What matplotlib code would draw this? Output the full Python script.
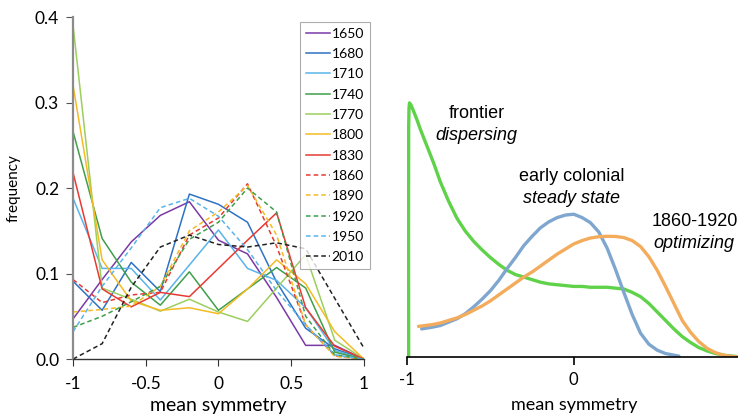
import numpy as np
import matplotlib
matplotlib.use("Agg")
import matplotlib.pyplot as plt

plt.rcParams['font.family'] = ['Lato', 'DejaVu Sans']

# left panel: frequency of mean symmetry per decade
sym_bins = [-1, -0.8, -0.6, -0.4, -0.2, 0, 0.2, 0.4, 0.6, 0.8, 1]
years = ['1650', '1680', '1710', '1740', '1770', '1800', '1830',
         '1860', '1890', '1920', '1950', '2010']
freq_1650 = [0.047, 0.093, 0.137, 0.168, 0.184, 0.139, 0.123, 0.072, 0.016, 0.016, 0.0]
freq_1680 = [0.091, 0.057, 0.113, 0.079, 0.193, 0.181, 0.160, 0.090, 0.036, 0.012, 0.0]
freq_1710 = [0.188, 0.106, 0.106, 0.069, 0.110, 0.151, 0.106, 0.092, 0.060, 0.010, 0.0]
freq_1740 = [0.266, 0.141, 0.090, 0.063, 0.102, 0.057, 0.082, 0.107, 0.083, 0.008, 0.0]
freq_1770 = [0.390, 0.083, 0.070, 0.056, 0.070, 0.055, 0.044, 0.083, 0.122, 0.022, 0.0]
freq_1800 = [0.320, 0.116, 0.068, 0.057, 0.060, 0.053, 0.082, 0.116, 0.088, 0.032, 0.0]
freq_1830 = [0.218, 0.082, 0.061, 0.078, 0.073, 0.106, 0.139, 0.171, 0.060, 0.015, 0.0]
freq_1860 = [0.093, 0.066, 0.075, 0.078, 0.145, 0.165, 0.205, 0.132, 0.040, 0.004, 0.0]
freq_1890 = [0.055, 0.058, 0.062, 0.085, 0.150, 0.172, 0.203, 0.145, 0.040, 0.003, 0.0]
freq_1920 = [0.037, 0.050, 0.067, 0.085, 0.140, 0.160, 0.200, 0.172, 0.050, 0.005, 0.0]
freq_1950 = [0.032, 0.085, 0.130, 0.177, 0.188, 0.167, 0.128, 0.080, 0.040, 0.005, 0.0]
freq_2010 = [0.0, 0.018, 0.084, 0.131, 0.145, 0.134, 0.131, 0.136, 0.129, 0.071, 0.013]

# right panel: schematic distributions
front_x = [-0.990, -0.991, -0.990, -0.988, -0.985, -0.975, -0.96, -0.94, -0.92, -0.90,
           -0.87, -0.84, -0.80, -0.75, -0.70, -0.65, -0.60, -0.55, -0.50, -0.45,
           -0.40, -0.35, -0.30, -0.25, -0.20, -0.15, -0.10, -0.05, 0.0, 0.05,
           0.10, 0.15, 0.20, 0.25, 0.30, 0.35, 0.40, 0.45, 0.50, 0.55,
           0.60, 0.65, 0.70, 0.75, 0.80, 0.85, 0.90, 0.95, 1.0]
front_y = [0.0, 0.15, 0.27, 0.293, 0.299, 0.296, 0.289, 0.279, 0.268, 0.258,
           0.243, 0.228, 0.206, 0.183, 0.163, 0.148, 0.136, 0.126, 0.117, 0.109,
           0.102, 0.097, 0.094, 0.091, 0.088, 0.086, 0.085, 0.084, 0.083, 0.083,
           0.082, 0.082, 0.082, 0.081, 0.080, 0.076, 0.071, 0.063, 0.053, 0.043,
           0.033, 0.024, 0.017, 0.011, 0.007, 0.004, 0.002, 0.001, 0.0]
early_x = [-0.912, -0.85, -0.80, -0.75, -0.70, -0.65, -0.60, -0.55, -0.50, -0.45,
           -0.40, -0.35, -0.30, -0.25, -0.20, -0.15, -0.10, -0.05, 0.0, 0.05,
           0.10, 0.15, 0.20, 0.25, 0.30, 0.35, 0.40, 0.45, 0.50, 0.55, 0.63]
early_y = [0.033, 0.035, 0.037, 0.041, 0.045, 0.051, 0.059, 0.068, 0.078, 0.090,
           0.104, 0.117, 0.131, 0.142, 0.152, 0.159, 0.164, 0.167, 0.168, 0.164,
           0.158, 0.147, 0.128, 0.103, 0.076, 0.050, 0.028, 0.015, 0.008, 0.004, 0.001]
optim_x = [-0.931, -0.85, -0.80, -0.75, -0.70, -0.65, -0.60, -0.55, -0.50, -0.45,
           -0.40, -0.35, -0.30, -0.25, -0.20, -0.15, -0.10, -0.05, 0.0, 0.05,
           0.10, 0.15, 0.20, 0.25, 0.30, 0.35, 0.40, 0.45, 0.50, 0.55,
           0.60, 0.65, 0.70, 0.75, 0.80, 0.85, 0.90, 0.95, 1.0]
optim_y = [0.036, 0.038, 0.040, 0.043, 0.046, 0.050, 0.055, 0.060, 0.066, 0.073,
           0.080, 0.087, 0.094, 0.100, 0.107, 0.114, 0.121, 0.127, 0.133, 0.137,
           0.140, 0.1415, 0.142, 0.1418, 0.1405, 0.137, 0.130, 0.118, 0.102, 0.083,
           0.063, 0.043, 0.029, 0.018, 0.010, 0.005, 0.002, 0.0005, 0.0]

series = [freq_1650, freq_1680, freq_1710, freq_1740, freq_1770, freq_1800, freq_1830,
          freq_1860, freq_1890, freq_1920, freq_1950, freq_2010]
colors = ['#7a3aa6', '#2f72c4', '#5ab4ea', '#3f9f4a', '#9bcf5e', '#f4bb24', '#e73a33',
          '#e73a33', '#f4bb24', '#3f9f4a', '#5ab4ea', '#222222']
styles = ['-'] * 7 + ['--'] * 5

fig = plt.figure(figsize=(7.38, 4.17), dpi=100)

ax = fig.add_axes([0.099, 0.139, 0.394, 0.82])
for lab, vals, c, ls in zip(years, series, colors, styles):
    if ls == '--':
        ax.plot(sym_bins, vals, color=c, lw=1.1, linestyle=(0, (3, 2)), label=lab)
    else:
        ax.plot(sym_bins, vals, color=c, lw=1.1, label=lab)

ax.set_xlim(-1, 1)
ax.set_ylim(0, 0.4)
ax.set_xticks([-1, -0.5, 0, 0.5, 1])
ax.set_xticklabels(['-1', '-0.5', '0', '0.5', '1'])
ax.set_yticks([0, 0.1, 0.2, 0.3, 0.4])
ax.set_yticklabels(['0.0', '0.1', '0.2', '0.3', '0.4'])
for s in ['top', 'right']:
    ax.spines[s].set_visible(False)
ax.spines['left'].set_color('#8c8c8c')
ax.spines['left'].set_linewidth(1.6)
ax.spines['bottom'].set_color('#333333')
ax.spines['bottom'].set_linewidth(1.0)
ax.tick_params(axis='y', direction='out', length=5, color='#555555', labelsize=12.5, pad=5)
ax.tick_params(axis='x', direction='out', length=5, color='#333333', labelsize=12.5, pad=7)
ax.set_xlabel('mean symmetry', fontsize=14, labelpad=4)
ax.set_ylabel('frequency', fontsize=11, labelpad=10)

leg = ax.legend(loc='upper left', bbox_to_anchor=(0.407, 0.947), bbox_transform=fig.transFigure,
                fontsize=10, handlelength=1.75, handletextpad=0.1, labelspacing=0.6,
                borderpad=0.4, borderaxespad=0, fancybox=False, frameon=True)
leg.get_frame().set_edgecolor('#999999')
leg.get_frame().set_linewidth(0.8)

ax2 = fig.add_axes([0.5515, 0.144, 0.452, 0.815])
ax2.plot(front_x, front_y, color='#5fd24a', lw=2.4, solid_capstyle='round', solid_joinstyle='round')
ax2.plot(early_x, early_y, color='#7fa6cf', lw=2.4, solid_capstyle='round', solid_joinstyle='round')
ax2.plot(optim_x, optim_y, color='#f3ab5c', lw=2.4, solid_capstyle='round', solid_joinstyle='round')
ax2.set_xlim(-1, 1)
ax2.set_ylim(0, 0.4)
for s in ['top', 'right', 'left']:
    ax2.spines[s].set_visible(False)
ax2.spines['bottom'].set_linewidth(1.2)
ax2.set_yticks([])
ax2.set_xticks([-1, 0, 1])
ax2.set_xticklabels(['-1', '0', ''])
ax2.tick_params(axis='x', direction='out', length=6, width=1.2, labelsize=12, pad=5)
ax2.set_xlabel('mean symmetry', fontsize=13, labelpad=6)

txt = dict(fontsize=13, family=['Liberation Sans', 'DejaVu Sans'])
fig.text(0.646, 0.728, 'frontier', ha='center', va='center', **txt)
fig.text(0.645, 0.674, 'dispersing', ha='center', va='center', style='italic', **txt)
fig.text(0.775, 0.577, 'early colonial', ha='center', va='center', **txt)
fig.text(0.775, 0.524, 'steady state', ha='center', va='center', style='italic', **txt)
fig.text(0.883, 0.468, '1860-1920', ha='left', va='center', **txt)
fig.text(0.885, 0.416, 'optimizing', ha='left', va='center', style='italic', **txt)

fig.savefig('out.png', dpi=100)
